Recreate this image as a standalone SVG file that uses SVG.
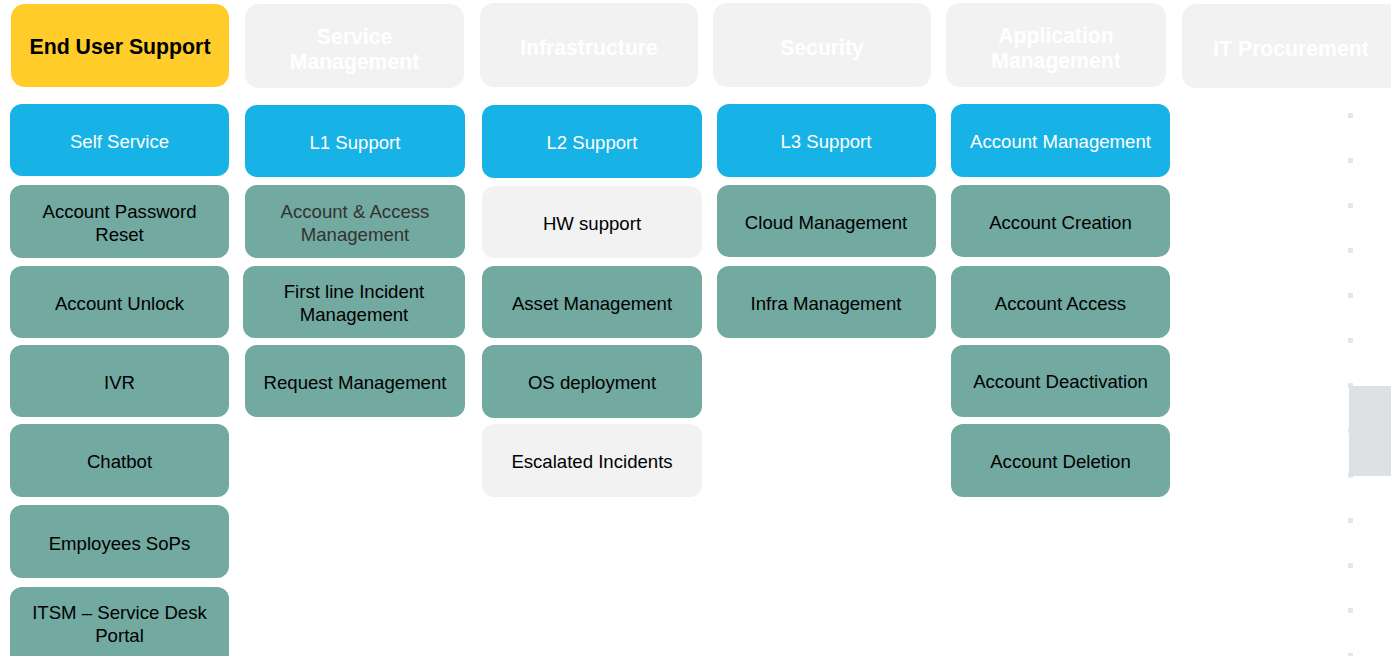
<svg xmlns="http://www.w3.org/2000/svg" width="1391" height="656" viewBox="0 0 1391 656">
<style>
text{font-family:"Liberation Sans",Arial,sans-serif;text-anchor:middle;dominant-baseline:central}
.hd{fill:#F2F2F2}
.hdt{fill:#FFFFFF;font-weight:bold;font-size:21.2px}
.yel{fill:#FFCC29}
.yelt{fill:#000;font-weight:bold;font-size:21.3px}
.blue{fill:#17B2E6}
.bt{fill:#FFFFFF;font-size:18.6px}
.teal{fill:#72A9A0}
.gray{fill:#F2F2F2}
.t{fill:#000;font-size:18.6px}
.dk{fill:#333333}
.dot{fill:#E6E6E6}
</style>
<rect width="1391" height="656" fill="#FFFFFF"/>
<g id="headers">
<g id="h1"><rect class="yel" x="11" y="4" width="218" height="83" rx="14"/><text class="yelt" x="120" y="47">End User Support</text></g>
<g id="h2"><rect class="hd" x="245" y="4" width="219" height="84" rx="14"/><text class="hdt" x="354.5" y="36">Service</text><text class="hdt" x="354.5" y="61">Management</text></g>
<g id="h3"><rect class="hd" x="480" y="3" width="218" height="84" rx="14"/><text class="hdt" x="589" y="47">Infrastructure</text></g>
<g id="h4"><rect class="hd" x="713" y="3" width="218" height="84" rx="14"/><text class="hdt" x="822" y="47">Security</text></g>
<g id="h5"><rect class="hd" x="946" y="3" width="220" height="84" rx="14"/><text class="hdt" x="1056" y="35">Application</text><text class="hdt" x="1056" y="60">Management</text></g>
<g id="h6"><rect class="hd" x="1182" y="4" width="230" height="84" rx="14"/><text class="hdt" x="1291" y="48">IT Procurement</text></g>
</g>
<g id="col1">
<g id="c1r1"><rect class="blue" x="10" y="104" width="219" height="72" rx="12"/><text class="bt" x="119.5" y="141">Self Service</text></g>
<g id="c1r2"><rect class="teal" x="10" y="185" width="219" height="73" rx="12"/><text class="t" x="119.5" y="211">Account Password</text><text class="t" x="119.5" y="234">Reset</text></g>
<g id="c1r3"><rect class="teal" x="10" y="266" width="219" height="72" rx="12"/><text class="t" x="119.5" y="303">Account Unlock</text></g>
<g id="c1r4"><rect class="teal" x="10" y="345" width="219" height="72" rx="12"/><text class="t" x="119.5" y="382">IVR</text></g>
<g id="c1r5"><rect class="teal" x="10" y="424" width="219" height="73" rx="12"/><text class="t" x="119.5" y="461">Chatbot</text></g>
<g id="c1r6"><rect class="teal" x="10" y="505" width="219" height="73" rx="12"/><text class="t" x="119.5" y="543">Employees SoPs</text></g>
<g id="c1r7"><rect class="teal" x="10" y="587" width="219" height="80" rx="12"/><text class="t" x="119.5" y="612">ITSM – Service Desk</text><text class="t" x="119.5" y="635">Portal</text></g>
</g>
<g id="col2">
<g id="c2r1"><rect class="blue" x="245" y="105" width="220" height="72" rx="12"/><text class="bt" x="355" y="142">L1 Support</text></g>
<g id="c2r2"><rect class="teal" x="245" y="185" width="220" height="73" rx="12"/><text class="t dk" x="355" y="211">Account &amp; Access</text><text class="t dk" x="355" y="234">Management</text></g>
<g id="c2r3"><rect class="teal" x="243" y="266" width="222" height="72" rx="12"/><text class="t" x="354" y="291">First line Incident</text><text class="t" x="354" y="314">Management</text></g>
<g id="c2r4"><rect class="teal" x="245" y="345" width="220" height="72" rx="12"/><text class="t" x="355" y="382">Request Management</text></g>
</g>
<g id="col3">
<g id="c3r1"><rect class="blue" x="482" y="105" width="220" height="73" rx="12"/><text class="bt" x="592" y="142">L2 Support</text></g>
<g id="c3r2"><rect class="gray" x="482" y="186" width="220" height="72" rx="12"/><text class="t" x="592" y="223">HW support</text></g>
<g id="c3r3"><rect class="teal" x="482" y="266" width="220" height="72" rx="12"/><text class="t" x="592" y="303">Asset Management</text></g>
<g id="c3r4"><rect class="teal" x="482" y="345" width="220" height="73" rx="12"/><text class="t" x="592" y="382">OS deployment</text></g>
<g id="c3r5"><rect class="gray" x="482" y="424" width="220" height="73" rx="12"/><text class="t" x="592" y="461">Escalated Incidents</text></g>
</g>
<g id="col4">
<g id="c4r1"><rect class="blue" x="717" y="104" width="219" height="73" rx="12"/><text class="bt" x="826" y="141">L3 Support</text></g>
<g id="c4r2"><rect class="teal" x="717" y="185" width="219" height="72" rx="12"/><text class="t" x="826" y="222">Cloud Management</text></g>
<g id="c4r3"><rect class="teal" x="717" y="266" width="219" height="72" rx="12"/><text class="t" x="826" y="303">Infra Management</text></g>
</g>
<g id="col5">
<g id="c5r1"><rect class="blue" x="951" y="104" width="219" height="73" rx="12"/><text class="bt" x="1060.5" y="141">Account Management</text></g>
<g id="c5r2"><rect class="teal" x="951" y="185" width="219" height="72" rx="12"/><text class="t" x="1060.5" y="222">Account Creation</text></g>
<g id="c5r3"><rect class="teal" x="951" y="266" width="219" height="72" rx="12"/><text class="t" x="1060.5" y="303">Account Access</text></g>
<g id="c5r4"><rect class="teal" x="951" y="345" width="219" height="72" rx="12"/><text class="t" x="1060.5" y="381">Account Deactivation</text></g>
<g id="c5r5"><rect class="teal" x="951" y="424" width="219" height="73" rx="12"/><text class="t" x="1060.5" y="461">Account Deletion</text></g>
</g>
<g id="side">
<rect class="dot" x="1348" y="113" width="5" height="5"/>
<rect class="dot" x="1348" y="158" width="5" height="5"/>
<rect class="dot" x="1348" y="203" width="5" height="5"/>
<rect class="dot" x="1348" y="248" width="5" height="5"/>
<rect class="dot" x="1348" y="293" width="5" height="5"/>
<rect class="dot" x="1348" y="338" width="5" height="5"/>
<rect class="dot" x="1348" y="383" width="5" height="5"/>
<rect class="dot" x="1348" y="428" width="5" height="5"/>
<rect class="dot" x="1348" y="473" width="5" height="5"/>
<rect class="dot" x="1348" y="518" width="5" height="5"/>
<rect class="dot" x="1348" y="563" width="5" height="5"/>
<rect class="dot" x="1348" y="608" width="5" height="5"/>
<rect class="dot" x="1348" y="653" width="5" height="5"/>
<rect x="1349" y="386" width="42" height="90" fill="#DEE1E3"/>
</g>
<g id="connectors"/>
</svg>
